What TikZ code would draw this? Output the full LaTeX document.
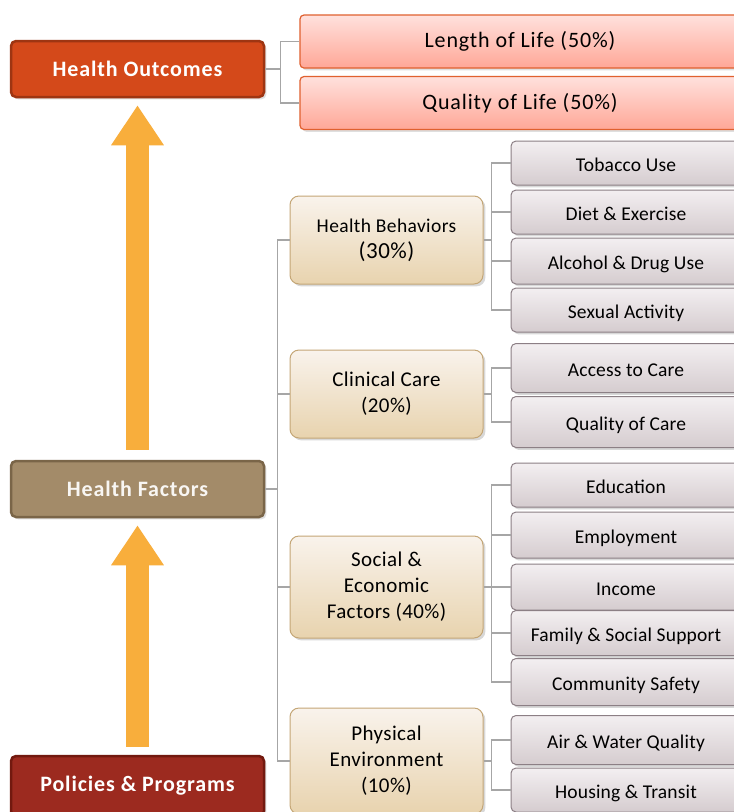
\documentclass[tikz,border=0pt]{standalone}
\usepackage{fontspec}
\setmainfont{Carlito}
\usepackage{tikz}
\usetikzlibrary{arrows.meta,shadows}
\definecolor{outfill}{HTML}{D4491A}
\definecolor{outline}{HTML}{9E3512}
\definecolor{facfill}{HTML}{A38B69}
\definecolor{facline}{HTML}{7A6548}
\definecolor{polfill}{HTML}{9C2A1F}
\definecolor{polline}{HTML}{72190F}
\definecolor{pinktop}{HTML}{FFE1DD}
\definecolor{pinkbot}{HTML}{FFA797}
\definecolor{pinkline}{HTML}{E0602F}
\definecolor{cattop}{HTML}{F9F3EC}
\definecolor{catbot}{HTML}{E8D3AE}
\definecolor{catline}{HTML}{C4A676}
\definecolor{subtop}{HTML}{F3EFF1}
\definecolor{subbot}{HTML}{D5CCCF}
\definecolor{subline}{HTML}{8C7F85}
\definecolor{arrowcol}{HTML}{F8AE3C}
\definecolor{conncol}{HTML}{A6A6A6}
\tikzset{
	x=1pt, y=-1pt, % coordinates read like pixels, y going down
	mainbox/.style={draw, line width=2.5pt, rounded corners=5pt, minimum width=253pt, minimum height=56pt,
		text=white, font=\fontsize{22}{26}\selectfont\bfseries\addfontfeatures{LetterSpace=4}, drop shadow={opacity=0.25}},
	lifebox/.style={draw=pinkline, line width=1.2pt, rounded corners=4pt, top color=pinktop, bottom color=pinkbot,
		minimum width=440pt, minimum height=53pt, font=\fontsize{22}{26}\selectfont\addfontfeatures{LetterSpace=4},
		drop shadow={opacity=0.25}},
	catbox/.style={draw=catline, line width=1pt, rounded corners=9pt, top color=cattop, bottom color=catbot,
		minimum width=193pt, align=center, font=\fontsize{21}{26}\selectfont\addfontfeatures{LetterSpace=2},
		drop shadow={opacity=0.3}},
	subbox/.style={draw=subline, line width=1pt, rounded corners=5pt, top color=subtop, bottom color=subbot,
		minimum width=230pt, text height=16pt, text depth=0pt, % text sits a little low, as in the original
		font=\fontsize{19.5}{22}\selectfont\addfontfeatures{LetterSpace=1}, drop shadow={opacity=0.3}},
	conn/.style={draw=conncol, line width=1.3pt},
	uparrow/.style={draw=arrowcol, line width=23pt, -{Triangle[length=40pt,width=50pt]}},
}
\begin{document}
\begin{tikzpicture}
	\useasboundingbox[fill=white] (0,0) rectangle (734,812);
	% left column
	\node[mainbox, draw=outline, fill=outfill] (ho) at (137.5,69) {Health Outcomes};
	\node[mainbox, draw=facline, fill=facfill, text=white!92!facfill] (hf) at (137.5,489) {Health Factors};
	\node[mainbox, draw=polline, fill=polfill, minimum height=60pt] (pp) at (137.5,786) {Policies \& Programs};
	\draw[uparrow] ([yshift=10pt]hf.north) -- ([yshift=-7pt]ho.south);
	\draw[uparrow] ([yshift=8pt]pp.north) -- ([yshift=-7pt]hf.south);
	% outcomes
	\node[lifebox] (ll) at (520,41.5) {Length of Life (50\%)};
	\node[lifebox] (ql) at (520,103) {Quality of Life (50\%)};
	\draw[conn] (ho.east) -- ++(15,0) coordinate (hobus);
	\draw[conn] (hobus) |- (ll.west);
	\draw[conn] (hobus) |- (ql.west);
	% factor groups
	\node[catbox, minimum height=88pt] (hb) at (386.5,240)
		{\fontsize{19.5}{24}\selectfont Health Behaviors\\\fontsize{23}{26}\selectfont (30\%)};
	\node[catbox, minimum height=88pt] (cc) at (386.5,394) {Clinical Care\\(20\%)};
	\node[catbox, minimum height=102pt] (se) at (386.5,587) {Social \&\\Economic\\Factors (40\%)};
	\node[catbox, minimum height=106pt] (pe) at (386.5,761) {Physical\\Environment\\(10\%)};
	\draw[conn] (hf.east) -- ++(12,0) coordinate (hfbus);
	\foreach \g in {hb,cc,se,pe}
		\draw[conn] (hfbus) |- (\g.west);
	% factors
	\foreach \n/\y/\h/\t in {tu/163/44/Tobacco Use, de/212/44/Diet \& Exercise, ad/261/46/Alcohol \& Drug Use, sa/310/44/Sexual Activity,
		ac/368/49/Access to Care, qc/422/51/Quality of Care,
		ed/485/44/Education, em/535/46/Employment, in/587/46/Income, fs/633/45/Family \& Social Support, cs/682/47/Community Safety,
		aw/740/49/Air \& Water Quality, ht/790/44/Housing \& Transit}
		\node[subbox, minimum height=\h pt] (\n) at (626,\y) {\t};
	\foreach \g/\list in {hb/{tu,de,ad,sa}, cc/{ac,qc}, se/{ed,em,in,fs,cs}, pe/{aw,ht}} {
		\draw[conn] (\g.east) -- ++(8,0) coordinate (\g bus);
		\foreach \s in \list
			\draw[conn] (\g bus) |- (\s.west);
	}
\end{tikzpicture}
\end{document}
